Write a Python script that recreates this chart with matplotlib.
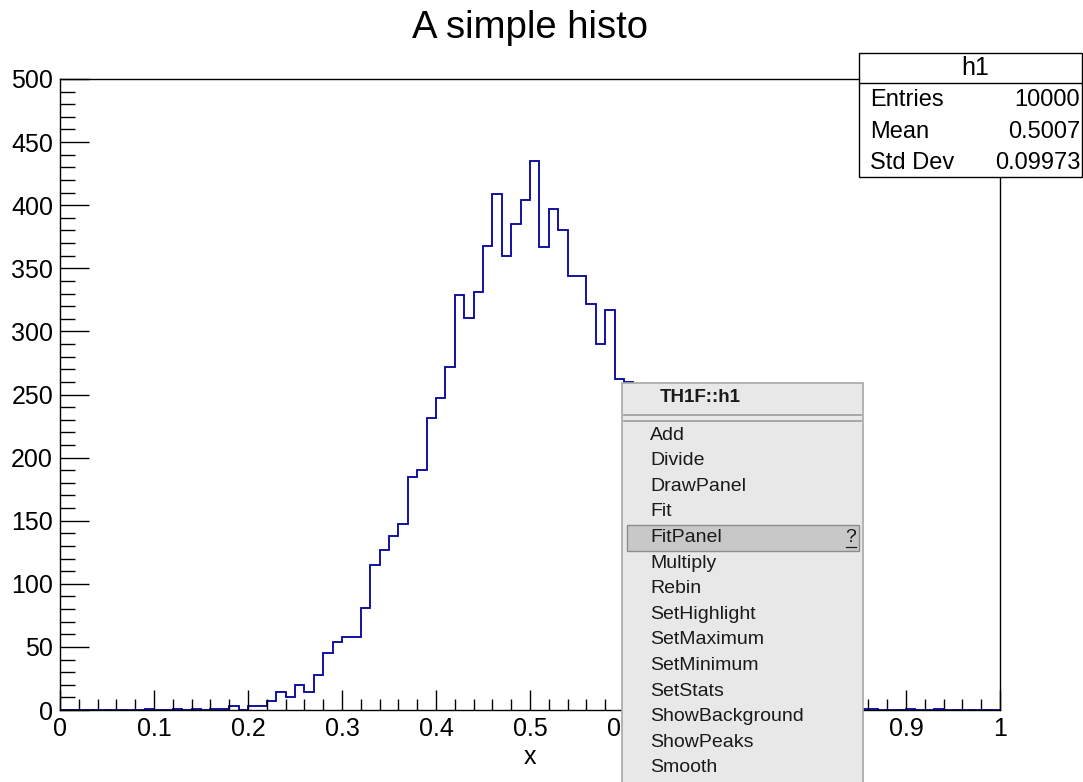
import matplotlib
matplotlib.use('Agg')
import matplotlib.pyplot as plt
from matplotlib.patches import Rectangle
from matplotlib.ticker import MultipleLocator, FuncFormatter
import numpy as np

plt.rcParams['font.family'] = ['Liberation Sans', 'DejaVu Sans']

W, H = 1083, 782

# h1: 100 bins on [0, 1]
nbins = 100
xmin, xmax = 0.0, 1.0
counts = [
    0, 0, 0, 0, 0, 0, 0, 0, 0, 1,
    0, 0, 1, 0, 1, 0, 1, 1, 3, 0,
    3, 3, 7, 14, 10, 20, 14, 28, 45, 54,
    58, 58, 81, 115, 127, 138, 147, 185, 190, 231,
    247, 272, 329, 311, 331, 368, 409, 360, 385, 404,
    435, 367, 397, 380, 344, 344, 322, 290, 317, 262,
    260, 222, 200, 180, 160, 140, 118, 100, 88, 72,
    60, 47, 38, 30, 22, 17, 12, 9, 7, 5,
    4, 3, 2, 1, 1, 1, 1, 0, 0, 0,
    1, 0, 0, 1, 0, 0, 0, 0, 0, 0,
]
edges = np.linspace(xmin, xmax, nbins + 1)

title = 'A simple histo'
hist_name = 'h1'
stat_names = ['Entries', 'Mean', 'Std Dev']
stat_values = ['10000', '0.5007', '0.09973']

menu_title = 'TH1F::h1'
menu_items = ['Add', 'Divide', 'DrawPanel', 'Fit', 'FitPanel', 'Multiply',
              'Rebin', 'SetHighlight', 'SetMaximum', 'SetMinimum', 'SetStats',
              'ShowBackground', 'ShowPeaks', 'Smooth']
menu_selected = 'FitPanel'
# menu left/right edge in pixels; tick labels fully under it are not drawn
menu_x0, menu_x1 = 622, 863

fig = plt.figure(figsize=(W / 100, H / 100), dpi=100)
fig.patch.set_facecolor('white')

ax = fig.add_axes([60 / W, 1 - 710 / H, 940 / W, 631 / H])
ax.stairs(counts, edges, color='#00009c', lw=1.3)
ax.set_xlim(xmin, xmax)
ax.set_ylim(0, 500)

ax.xaxis.set_major_locator(MultipleLocator(0.1))
ax.xaxis.set_minor_locator(MultipleLocator(0.02))
ax.yaxis.set_major_locator(MultipleLocator(50))
ax.yaxis.set_minor_locator(MultipleLocator(10))


def xfmt(v, _):
    px = 60 + 940 * (v - xmin) / (xmax - xmin)
    if menu_x0 + 20 < px < menu_x1 - 20:
        return ''
    return '%g' % round(v, 6)


ax.xaxis.set_major_formatter(FuncFormatter(xfmt))
ax.yaxis.set_major_formatter(FuncFormatter(lambda v, _: '%g' % round(v, 6)))

ax.tick_params(which='both', direction='in', top=False, right=False,
               width=1.0, color='black')
ax.tick_params(axis='x', which='major', length=14.4, labelsize=18, pad=5)
ax.tick_params(axis='x', which='minor', length=7.7)
ax.tick_params(axis='y', which='major', length=21, labelsize=18, pad=5)
ax.tick_params(axis='y', which='minor', length=10.8)
for sp in ax.spines.values():
    sp.set_linewidth(1.0)

ax.set_xlabel('x', fontsize=18, labelpad=3)
fig.text(530 / W, 1 - 28 / H, title, fontsize=27.5, ha='center', va='center')

# overlay in pixel coordinates for the stats box and the popup menu
ov = fig.add_axes([0, 0, 1, 1], zorder=10)
ov.set_xlim(0, W)
ov.set_ylim(H, 0)
ov.axis('off')
ov.patch.set_alpha(0)

# stats box
ov.add_patch(Rectangle((858.5, 52.5), 223, 124.5, fc='white', ec='black', lw=1.0))
ov.plot([858.5, 1081.5], [83, 83], color='black', lw=1.0)
ov.text(975, 68, hist_name, fontsize=18, ha='center', va='center')
for i, (name, val) in enumerate(zip(stat_names, stat_values)):
    y = 100 + 31.5 * i
    ov.text(870, y, name, fontsize=17, ha='left', va='center')
    ov.text(1080, y, val, fontsize=17, ha='right', va='center')

# context menu
ov.add_patch(Rectangle((menu_x0, 383), menu_x1 - menu_x0, 430, fc='#e8e8e8',
                       ec='#a8a8a8', lw=1.2))
ov.text(660, 397, menu_title, fontsize=13.5, fontweight='bold', ha='left',
        va='center', color='#1a1a1a')
for ys in (415, 421):
    ov.plot([624, 861], [ys, ys], color='#9a9a9a', lw=1.2)
for i, item in enumerate(menu_items):
    y = 435 + 25.6 * i
    if item == menu_selected:
        ov.add_patch(Rectangle((627, y - 12.5), 232, 26, fc='#c8c8c8',
                               ec='#8c8c8c', lw=1.0))
        ov.text(851, y, '?', fontsize=14, ha='center', va='center', color='#1a1a1a')
        ov.plot([846, 856], [y + 10, y + 10], color='#1a1a1a', lw=0.9)
    ov.text(650, y, item, fontsize=14, ha='left', va='center', color='#1a1a1a')

fig.savefig('out.png', dpi=100)
